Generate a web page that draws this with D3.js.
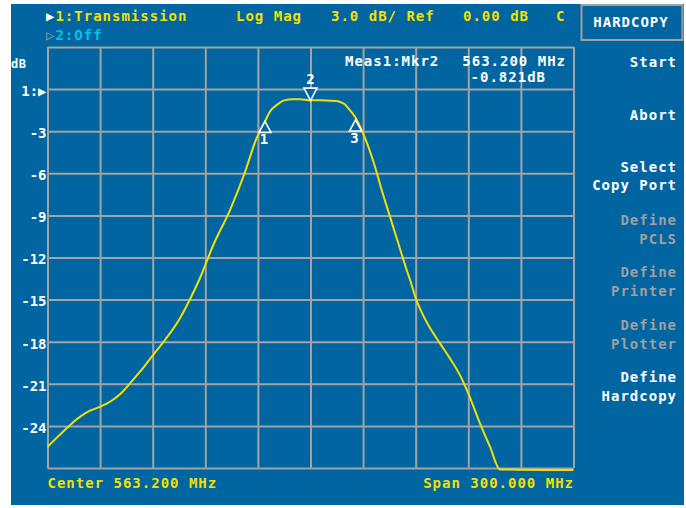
<!DOCTYPE html>
<html><head><meta charset="utf-8">
<script src="https://cdn.jsdelivr.net/npm/d3@7"></script>
<style>
html,body{margin:0;padding:0;background:#fff;}
svg{display:block;}
text{font-family:"DejaVu Sans Mono",monospace;font-weight:bold;font-size:14px;letter-spacing:1px;}
</style></head>
<body>
<svg id="chart" width="686" height="508"></svg>
<script>
// ---- data ----
const freqMHz = [413.2,424.15,429.85,435.56,443.31,448.85,454.55,460.25,465.96,473.37,480.21,488.77,494.47,500.18,507.76,517.29,525.84,532.51,537.25,540.1,544.83,547.69,553.39,557.2,563.2,568.62,574.32,578.14,580.1,582.9,584.76,588.58,592.4,596.17,599.99,603.8,608.54,613.27,618.06,620.0,623.36,626.78,630.38,637.05,642.75,648.45,653.2,659.87,665.57,671.27,713.2];
const magDb   = [-25.5,-24.17,-23.53,-23.03,-22.63,-22.28,-21.75,-20.97,-20.14,-18.95,-17.88,-16.33,-14.98,-13.46,-11.11,-8.62,-5.91,-3.48,-2.31,-1.6,-1.05,-0.82,-0.72,-0.72,-0.8,-0.8,-0.83,-0.85,-0.92,-1.1,-1.37,-1.97,-2.92,-4.1,-5.53,-7.19,-9.09,-10.99,-12.89,-13.6,-14.95,-15.95,-16.81,-18.12,-19.19,-20.38,-21.68,-23.82,-25.48,-27.1,-27.15];
const markerIds  = ["1","2","3"];
const markerFreq = [537.25,563.2,588.9];
const markerDb   = [-2.3,-0.82,-2.2];
const yTicks      = [3,0,-3,-6,-9,-12,-15,-18,-21,-24,-27];
const yTickLabels = ["","1:\u25B6","-3","-6","-9","-12","-15","-18","-21","-24",""];
const xTicks      = [413.2,443.2,473.2,503.2,533.2,563.2,593.2,623.2,653.2,683.2,713.2];
const softkeys = [["Start"],["Abort"],["Select","Copy Port"],["Define","PCLS"],["Define","Printer"],["Define","Plotter"],["Define","Hardcopy"]];
const softkeyEnabled = [true,true,true,false,false,false,true];

// ---- drawing ----
const BLUE="rgb(0,101,160)", GRID="#a3a3a3", YEL="#f2e100", WHITE="#ffffff", GRAY="#a0a0a0", CYAN="#00c4e8";
const svg=d3.select("#chart");
svg.append("rect").attr("x",11).attr("y",4).attr("width",673).attr("height",501).attr("fill",BLUE);

const L=47.5,R=573.5,T=47,B=468;
const x=d3.scaleLinear().domain([413.2,713.2]).range([L,R]);
const y=d3.scaleLinear().domain([-27,3]).range([B,T]);

// grid
const gx=svg.append("g").attr("transform",`translate(0,${B})`)
  .call(d3.axisBottom(x).tickValues(xTicks).tickSize(-(B-T)).tickFormat(""));
gx.select(".domain").remove();
gx.selectAll("line").attr("stroke",GRID).attr("stroke-width",2);
const gy=svg.append("g").attr("transform",`translate(${L},0)`)
  .call(d3.axisLeft(y).tickValues(yTicks).tickSize(-(R-L)).tickPadding(2)
  .tickFormat((d,i)=>yTickLabels[i]));
gy.select(".domain").remove();
gy.selectAll("line").attr("stroke",GRID).attr("stroke-width",2);
gy.selectAll("text").attr("fill",WHITE).attr("dy","0.45em").attr("x",-1)
  .style("font-size","14px").style("letter-spacing","0px");

svg.append("text").attr("x",11).attr("y",68).attr("fill",WHITE).style("font-size","12px").style("letter-spacing","0.5px").text("dB");

// trace
const pts=freqMHz.map((f,i)=>[f,magDb[i]]);
svg.append("path").datum(pts).attr("fill","none").attr("stroke",YEL).attr("stroke-width",2)
  .attr("stroke-linejoin","round")
  .attr("d",d3.line().curve(d3.curveMonotoneX).x(d=>x(d[0])).y(d=>y(d[1])));

// markers
markerIds.forEach((id,i)=>{
  const mx=x(markerFreq[i]), my=y(markerDb[i]);
  const g=svg.append("g");
  if(id==="2"){
    g.append("path").attr("d",`M${mx},${my} L${mx-6.5},${my-12.5} L${mx+6.5},${my-12.5} Z`)
      .attr("fill",BLUE).attr("stroke",WHITE).attr("stroke-width",1.6);
    g.append("text").attr("x",mx).attr("y",my-16.5).attr("text-anchor","middle").attr("fill",WHITE)
      .style("letter-spacing","0px").text(id);
  } else {
    g.append("path").attr("d",`M${mx},${my} L${mx-6},${my+11} L${mx+6},${my+11} Z`)
      .attr("fill",BLUE).attr("stroke",WHITE).attr("stroke-width",1.6);
    g.append("text").attr("x",mx-1).attr("y",my+23).attr("text-anchor","middle").attr("fill",WHITE)
      .style("letter-spacing","0px").text(id);
  }
});

// header
function t(xp,yp,s,col,anchor){return svg.append("text").attr("x",xp).attr("y",yp).attr("fill",col).attr("text-anchor",anchor||"start").text(s);}
const h1=svg.append("text").attr("x",46).attr("y",21);
h1.append("tspan").attr("fill",WHITE).text("\u25B6");
h1.append("tspan").attr("fill",YEL).text("1:Transmission");
t(236,21,"Log Mag",YEL);
t(331,21,"3.0 dB/ Ref",YEL);
t(463,21,"0.00 dB",YEL);
t(556,21,"C",YEL);
const h2=svg.append("text").attr("x",46).attr("y",39.5);
h2.append("tspan").attr("fill",GRAY).text("\u25B7");
h2.append("tspan").attr("fill",CYAN).text("2:Off");

// marker readout
t(345,66,"Meas1:Mkr2",WHITE);
t(566,66,"563.200 MHz",WHITE,"end");
t(546,82,"-0.821dB",WHITE,"end");

// footer
t(47.5,488,"Center 563.200 MHz",YEL);
t(574,488,"Span 300.000 MHz",YEL,"end");

// softkeys
svg.append("rect").attr("x",581.5).attr("y",5).attr("width",101).attr("height",35)
  .attr("fill","none").attr("stroke",GRAY).attr("stroke-width",2);
t(631,27,"HARDCOPY",WHITE,"middle");
const skTop=[66.7,120,171.7,225,277.3,330,382.3];
softkeys.forEach((lines,i)=>{
  lines.forEach((s,j)=>{
    t(677,skTop[i]+j*18.5,s,softkeyEnabled[i]?WHITE:GRAY,"end");
  });
});
</script>
</body></html>
